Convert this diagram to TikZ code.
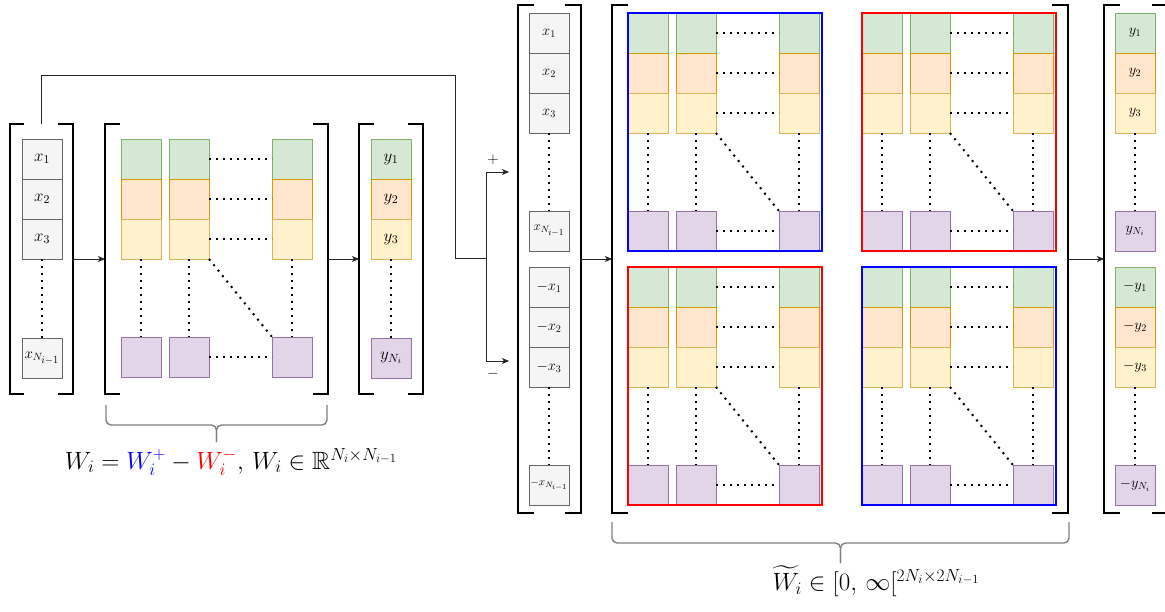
\documentclass[tikz,border=0pt]{standalone}
\usepackage{amsmath,amssymb}
\usepackage{fix-cm}
\usetikzlibrary{arrows.meta}
\definecolor{gfill}{HTML}{D5E8D4}\definecolor{gline}{HTML}{82B366}
\definecolor{ofill}{HTML}{FFE6CC}\definecolor{oline}{HTML}{D79B00}
\definecolor{yfill}{HTML}{FFF2CC}\definecolor{yline}{HTML}{D6B656}
\definecolor{pfill}{HTML}{E1D5E7}\definecolor{pline}{HTML}{9673A6}
\definecolor{xfill}{HTML}{F5F5F5}\definecolor{xline}{HTML}{666666}
\definecolor{bracegray}{HTML}{7F7F7F}
\newcommand\brk[3]{% name, left serif, right serif
  \draw[bracketline] ([xshift=#2pt]#1.north west) -- (#1.north west) -- (#1.south west) -- ([xshift=#2pt]#1.south west);
  \draw[bracketline] ([xshift=-#3pt]#1.north east) -- (#1.north east) -- (#1.south east) -- ([xshift=-#3pt]#1.south east);}
\newcommand\wblk[4]{% prefix, x, y, frame colour (or none)
  \begin{scope}[shift={(#2,#3)}]
    \node[gc] (#1g1) at (0,0) {};   \node[gc] (#1g2) at (48,0) {};   \node[gc] (#1g3) at (151,0) {};
    \node[oc] (#1o1) at (0,40) {};  \node[oc] (#1o2) at (48,40) {};  \node[oc] (#1o3) at (151,40) {};
    \node[yc] (#1y1) at (0,80) {};  \node[yc] (#1y2) at (48,80) {};  \node[yc] (#1y3) at (151,80) {};
    \node[pc] (#1p1) at (0,198) {}; \node[pc] (#1p2) at (48,198) {}; \node[pc] (#1p3) at (151,198) {};
    \draw[dots] (#1g2.east) -- (#1g3.west);
    \draw[dots] (#1o2.east) -- (#1o3.west);
    \draw[dots] (#1y2.east) -- (#1y3.west);
    \draw[dots] (#1p2.east) -- (#1p3.west);
    \draw[dots] (#1y1.south) -- (#1p1.north);
    \draw[dots] (#1y2.south) -- (#1p2.north);
    \draw[dots] (#1y3.south) -- (#1p3.north);
    \draw[dots] (#1y2.south east) -- (#1p3.north west);
    \node[blockframe, draw=#4] (#1f) at (0,0) {};
  \end{scope}}
\begin{document}
\begin{tikzpicture}[x=1pt,y=-1pt,
  cell/.style={minimum width=40pt, minimum height=40pt, inner sep=0pt, outer sep=0pt, anchor=north west, line width=0.6pt, font=\fontsize{17}{20}\selectfont},
  gc/.style={cell, fill=gfill, draw=gline},
  oc/.style={cell, fill=ofill, draw=oline},
  yc/.style={cell, fill=yfill, draw=yline},
  pc/.style={cell, fill=pfill, draw=pline},
  xc/.style={cell, fill=xfill, draw=xline},
  sc/.style={font=\fontsize{14.5}{17}\selectfont},
  dots/.style={line width=2pt, dash pattern=on 2pt off 5pt},
  frame/.style={draw=none, inner sep=0pt, outer sep=0pt, anchor=north west},
  blockframe/.style={inner sep=0pt, outer sep=0pt, anchor=north west, minimum width=194pt, minimum height=238pt, line width=1.2pt},
  bracketline/.style={line width=1.5pt, black},
  conn/.style={line width=0.8pt, black!85},
  arr/.style={conn, -{Stealth[length=7pt, width=6pt, inset=1.8pt]}},
  bracestyle/.style={line width=1.4pt, bracegray, rounded corners=5pt},
  lbl/.style={font=\fontsize{25}{29}\selectfont, inner sep=0pt}
]
\useasboundingbox (0,0) rectangle (1165,612);

% ---------------- left part ----------------
\node[frame, minimum width=63pt, minimum height=270pt] (vx) at (10,124) {};
\node[frame, minimum width=223pt, minimum height=270pt] (W) at (105,124) {};
\node[frame, minimum width=64pt, minimum height=270pt] (vy) at (359,124) {};
\brk{vx}{14}{15}
\brk{W}{15}{15}
\brk{vy}{15}{15}

\node[xc] (x1) at (22,139) {$x_1$};
\node[xc] (x2) at (22,179) {$x_2$};
\node[xc] (x3) at (22,219) {$x_3$};
\node[xc, font=\fontsize{15}{18}\selectfont] (xN) at (22,338) {$x_{N_{\scriptstyle i-1}}$};
\draw[dots] (x3.south) -- (xN.north);

\wblk{A}{121}{139}{none}

\node[gc] (y1) at (371,139) {$y_1$};
\node[oc] (y2) at (371,179) {$y_2$};
\node[yc] (y3) at (371,219) {$y_3$};
\node[pc] (yN) at (371,338) {$y_{N_i}$};
\draw[dots] (y3.south) -- (yN.north);

\draw[arr] (vx.east) -- (W.west);
\draw[arr] (W.east) -- (vy.west);

\draw[bracestyle] (106,405) |- (216.5,425) -- (216.5,442);
\draw[bracestyle] (327,405) |- (216.5,425) -- (216.5,442);
\node[lbl] (lbl1) at (231,462) {$W_i = \color{blue}W_i^+\color{black} - \color{red}W_i^-\color{black},\, W_i \in \mathbb{R}^{N_i\times N_{i-1}}$};

% ---------------- feed line ----------------
\coordinate (fa) at (455,75);
\coordinate (split) at (486,258);
\coordinate (pend) at (509,172);
\coordinate (mend) at (509,361);
\draw[conn] (vx.north) |- (fa) |- (split);
\draw[arr] (split) |- (pend);
\draw[arr] (split) |- (mend);
\node[font=\fontsize{15}{18}\selectfont] (plus) at (493,160) {$+$};
\node[font=\fontsize{15}{18}\selectfont] (minus) at (493,374) {$-$};

% ---------------- right part ----------------
\node[frame, minimum width=63pt, minimum height=508pt] (sx) at (518,5) {};
\node[frame, minimum width=456pt, minimum height=508pt] (Wt) at (612,5) {};
\node[frame, minimum width=63pt, minimum height=508pt] (sy) at (1104,5) {};
\brk{sx}{16}{16}
\brk{Wt}{16}{16}
\brk{sy}{16}{15}

\node[xc,sc] (sx1) at (529,13) {$x_1$};
\node[xc,sc] (sx2) at (529,53) {$x_2$};
\node[xc,sc] (sx3) at (529,93) {$x_3$};
\node[xc,font=\fontsize{13}{16}\selectfont] (sxN) at (529,211) {$x_{N_{\scriptstyle i-1}}$};
\draw[dots] (sx3.south) -- (sxN.north);
\node[xc,sc] (nx1) at (529,267) {$-x_1$};
\node[xc,sc] (nx2) at (529,307) {$-x_2$};
\node[xc,sc] (nx3) at (529,347) {$-x_3$};
\node[xc,font=\fontsize{11}{13}\selectfont] (nxN) at (529,465) {$-x_{N_{\scriptstyle i-1}}$};
\draw[dots] (nx3.south) -- (nxN.north);

\wblk{B}{628}{13}{blue}
\wblk{C}{862}{13}{red}
\wblk{D}{628}{267}{red}
\wblk{E}{862}{267}{blue}

\node[gc,sc] (sy1) at (1115,13) {$y_1$};
\node[oc,sc] (sy2) at (1115,53) {$y_2$};
\node[yc,sc] (sy3) at (1115,93) {$y_3$};
\node[pc,sc] (syN) at (1115,211) {$y_{N_i}$};
\draw[dots] (sy3.south) -- (syN.north);
\node[gc,sc] (ny1) at (1115,267) {$-y_1$};
\node[oc,sc] (ny2) at (1115,307) {$-y_2$};
\node[yc,sc] (ny3) at (1115,347) {$-y_3$};
\node[pc,sc] (nyN) at (1115,465) {$-y_{N_i}$};
\draw[dots] (ny3.south) -- (nyN.north);

\draw[arr] (sx.east) -- (Wt.west);
\draw[arr] (Wt.east) -- (sy.west);

\draw[bracestyle] (612,522) |- (840.5,543) -- (840.5,563);
\draw[bracestyle] (1069,522) |- (840.5,543) -- (840.5,563);
\node[lbl] (lbl2) at (876,581) {$\widetilde{W}_i \in [0,\,\infty[^{2N_i\times 2N_{i-1}}$};
\end{tikzpicture}
\end{document}
